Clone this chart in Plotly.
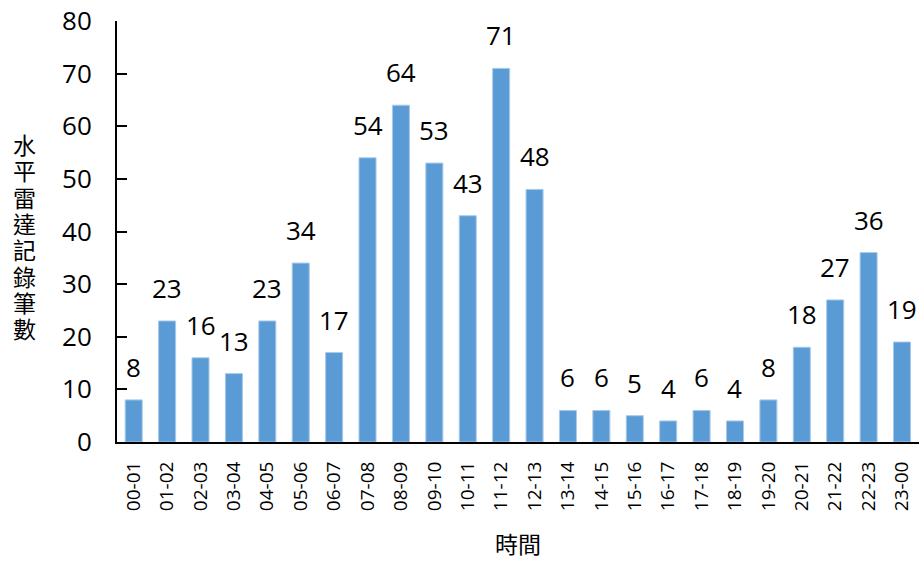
import plotly.graph_objects as go

# Hourly counts of horizontal radar records
hours = ["00-01", "01-02", "02-03", "03-04", "04-05", "05-06", "06-07", "07-08",
         "08-09", "09-10", "10-11", "11-12", "12-13", "13-14", "14-15", "15-16",
         "16-17", "17-18", "18-19", "19-20", "20-21", "21-22", "22-23", "23-00"]
counts = [8, 23, 16, 13, 23, 34, 17, 54, 64, 53, 43, 71, 48, 6, 6, 5, 4, 6, 4, 8,
          18, 27, 36, 19]
y_ticks = [0, 10, 20, 30, 40, 50, 60, 70, 80]
y_title = "水平雷達記錄筆數"
x_title = "時間"

FONT = "Open Sans, Noto Sans CJK TC, sans-serif"
CJK = "Noto Sans CJK TC"

W, H = 920, 562
M = dict(l=117, r=1, t=21, b=120)
plot_h = H - M["t"] - M["b"]

fig = go.Figure(
    go.Bar(
        x=hours,
        y=counts,
        marker=dict(color="#5B9BD5", line=dict(color="#a8cbea", width=1)),
        hoverinfo="x+y",
    )
)

# Value labels sitting above each bar
for h, c in zip(hours, counts):
    fig.add_annotation(
        x=h, y=c, text=str(c),
        xref="x", yref="y",
        xanchor="center", yanchor="bottom",
        yshift=13,
        showarrow=False,
        font=dict(family=FONT, size=26, color="#000"),
    )

fig.update_layout(
    width=W,
    height=H,
    margin=M,
    paper_bgcolor="white",
    plot_bgcolor="white",
    bargap=0.49,
    showlegend=False,
    font=dict(family=FONT, color="#000"),
)

fig.update_xaxes(
    type="category",
    tickangle=-90,
    tickfont=dict(family=FONT, size=19, color="#000"),
    showline=True,
    linecolor="#000",
    linewidth=2,
    ticks="",
    ticklabelstandoff=10,
    showgrid=False,
)

fig.update_yaxes(
    range=[0, 80],
    tickvals=y_ticks,
    tickfont=dict(family=FONT, size=26, color="#000"),
    showline=True,
    linecolor="#000",
    linewidth=2,
    ticks="inside",
    ticklen=10,
    tickwidth=2,
    tickcolor="#000",
    ticklabelstandoff=18,
    showgrid=False,
    zeroline=False,
)

# Vertical y-axis title, one character per line
first_center_px, pitch_px = 144, 26.3
for i, ch in enumerate(y_title):
    py = first_center_px + i * pitch_px
    fig.add_annotation(
        text=ch,
        xref="paper", yref="paper",
        x=(24.5 - M["l"]) / (W - M["l"] - M["r"]),
        y=(H - M["b"] - py) / plot_h,
        xanchor="center", yanchor="middle",
        showarrow=False,
        font=dict(family=CJK, size=23, color="#000"),
    )

fig.add_annotation(
    text=x_title,
    xref="paper", yref="paper",
    x=0.5, y=(H - M["b"] - 543) / plot_h,
    xanchor="center", yanchor="middle",
    showarrow=False,
    font=dict(family=CJK, size=23, color="#000"),
)

fig.write_html("out.html")
